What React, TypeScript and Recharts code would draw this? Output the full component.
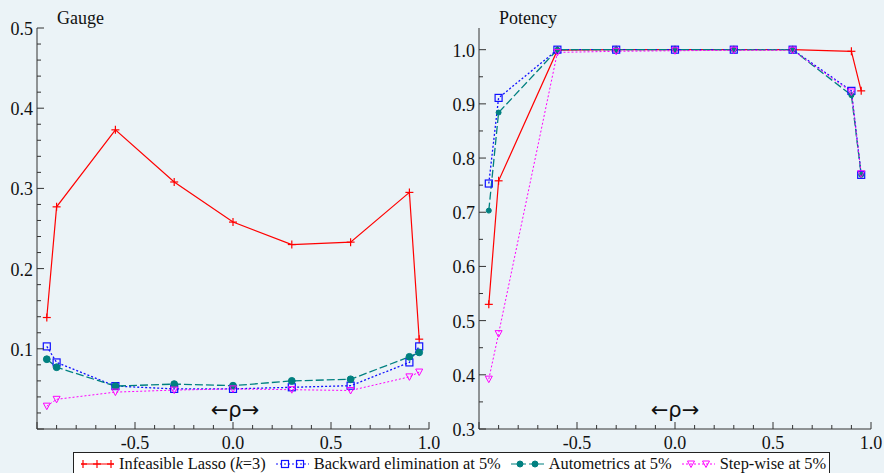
import React from 'react';
import { LineChart, Line, XAxis, YAxis } from 'recharts';

// correlation values on the x axis
const rho = [-0.95, -0.9, -0.6, -0.3, 0, 0.3, 0.6, 0.9, 0.95];

// gauge (left panel)
const gaugeLasso = [0.139, 0.277, 0.373, 0.308, 0.258, 0.23, 0.233, 0.295, 0.112];
const gaugeBackward = [0.103, 0.083, 0.0535, 0.05, 0.05, 0.052, 0.054, 0.083, 0.103];
const gaugeAuto = [0.087, 0.077, 0.0535, 0.056, 0.054, 0.06, 0.062, 0.09, 0.0955];
const gaugeStep = [0.0285, 0.037, 0.046, 0.0485, 0.05, 0.049, 0.048, 0.065, 0.071];

// potency (right panel)
const potencyLasso = [0.53, 0.758, 0.999, 1, 1, 1, 1, 0.997, 0.924];
const potencyBackward = [0.753, 0.911, 1, 1, 1, 1, 1, 0.924, 0.769];
const potencyAuto = [0.703, 0.884, 1, 1, 1, 1, 1, 0.916, 0.769];
const potencyStep = [0.392, 0.476, 0.995, 0.997, 0.998, 0.999, 0.999, 0.922, 0.771];

const xTicks = [-1, -0.9, -0.8, -0.7, -0.6, -0.5, -0.4, -0.3, -0.2, -0.1, 0, 0.1, 0.2, 0.3, 0.4, 0.5, 0.6, 0.7, 0.8, 0.9, 1];
const gaugeTicks = [0, 0.02, 0.04, 0.06, 0.08, 0.1, 0.12, 0.14, 0.16, 0.18, 0.2, 0.22, 0.24, 0.26, 0.28, 0.3, 0.32, 0.34, 0.36, 0.38, 0.4, 0.42, 0.44, 0.46, 0.48, 0.5];
const potencyTicks = [0.3, 0.35, 0.4, 0.45, 0.5, 0.55, 0.6, 0.65, 0.7, 0.75, 0.8, 0.85, 0.9, 0.95, 1];

const BG = '#ebf3f7';
const AXIS = '#333';
const RED = '#ff0000';
const BLUE = '#1010ff';
const TEAL = '#008080';
const MAGENTA = '#ff00ff';
const SERIF = "'Liberation Serif', 'Times New Roman', Times, Tinos, 'DejaVu Serif', 'Noto Serif', serif";

const gaugeRows = rho.map((r, i) => ({
    rho: r,
    lasso: gaugeLasso[i],
    backward: gaugeBackward[i],
    auto: gaugeAuto[i],
    step: gaugeStep[i],
}));

const potencyRows = rho.map((r, i) => ({
    rho: r,
    lasso: potencyLasso[i],
    backward: potencyBackward[i],
    auto: potencyAuto[i],
    step: potencyStep[i],
}));

const isMul = (v: number, step: number) => Math.abs(v / step - Math.round(v / step)) < 1e-6;

// markers
const plus = (cx: number, cy: number, k?: any) => (
    <g key={k}>
        <line x1={cx - 4} x2={cx + 4} y1={cy} y2={cy} stroke={RED} strokeWidth={1.2} />
        <line x1={cx} x2={cx} y1={cy - 4} y2={cy + 4} stroke={RED} strokeWidth={1.2} />
    </g>
);
const square = (cx: number, cy: number, k?: any) => (
    <rect key={k} x={cx - 3.5} y={cy - 3.5} width={7} height={7} fill="none" stroke={BLUE} strokeWidth={1.2} />
);
const circle = (r: number) => (cx: number, cy: number, k?: any) => (
    <circle key={k} cx={cx} cy={cy} r={r} fill={TEAL} stroke={TEAL} />
);
const triangle = (cx: number, cy: number, k?: any) => (
    <path key={k} d={`M${cx - 3.5},${cy - 3} L${cx + 3.5},${cy - 3} L${cx},${cy + 3.5} Z`} fill="none" stroke={MAGENTA} strokeWidth={1} />
);

const dotFn = (m: (cx: number, cy: number, k?: any) => React.ReactElement) => (p: any) =>
    m(p.cx, p.cy, `d-${p.index}`);

const xTick = (props: any) => {
    const { x, y, payload } = props;
    const v = payload.value;
    const major = isMul(v, 0.5);
    return (
        <g key={`xt-${v}`}>
            <line x1={x} x2={x} y1={y} y2={y - (major ? 7 : 4)} stroke={AXIS} />
            {major && v > -0.99 && (
                <text x={x} y={y + 19.5} textAnchor="middle" fontSize={18} style={{ fontFamily: SERIF }} fill="#111">
                    {v.toFixed(1)}
                </text>
            )}
        </g>
    );
};

const yTick = (showZero: boolean) => (props: any) => {
    const { x, y, payload } = props;
    const v = payload.value;
    const major = isMul(v, 0.1);
    const label = major && (showZero || v > 0.001);
    return (
        <g key={`yt-${v}`}>
            <line x1={x} x2={x + (major ? 7 : 4)} y1={y} y2={y} stroke={AXIS} />
            {label && (
                <text x={x - 4} y={y + 7} textAnchor="end" fontSize={18} style={{ fontFamily: SERIF }} fill="#111">
                    {v.toFixed(1)}
                </text>
            )}
        </g>
    );
};

function Chart({ rows, domain, ticks, showZero, dotR, width, margin, yWidth }: any) {
    return (
        <LineChart width={width} height={473} data={rows} margin={margin}>
            <XAxis
                dataKey="rho"
                type="number"
                domain={[-1, 1]}
                ticks={xTicks}
                interval={0}
                tickSize={0}
                tickMargin={0}
                tickLine={false}
                axisLine={{ stroke: AXIS }}
                height={30}
                tick={xTick}
            />
            <XAxis xAxisId="top" orientation="top" type="number" domain={[-1, 1]} height={0} tick={false} tickLine={false} axisLine={{ stroke: AXIS }} />
            <YAxis
                type="number"
                domain={domain}
                ticks={ticks}
                interval={0}
                tickSize={0}
                tickMargin={0}
                tickLine={false}
                axisLine={{ stroke: AXIS }}
                width={yWidth}
                tick={yTick(showZero)}
                allowDataOverflow
            />
            <YAxis yAxisId="right" orientation="right" type="number" domain={domain} width={0} tick={false} tickLine={false} axisLine={{ stroke: AXIS }} />
            <Line type="linear" dataKey="lasso" stroke={RED} strokeWidth={1.2} dot={dotFn(plus)} activeDot={false} isAnimationActive={false} />
            <Line type="linear" dataKey="backward" stroke={BLUE} strokeWidth={1.3} strokeDasharray="2 2" dot={dotFn(square)} activeDot={false} isAnimationActive={false} />
            <Line type="linear" dataKey="auto" stroke={TEAL} strokeWidth={1.3} strokeDasharray="8 3" dot={dotFn(circle(dotR))} activeDot={false} isAnimationActive={false} />
            <Line type="linear" dataKey="step" stroke={MAGENTA} strokeWidth={1} strokeDasharray="2 2" dot={dotFn(triangle)} activeDot={false} isAnimationActive={false} />
        </LineChart>
    );
}

const legendItems = [
    { key: 'lasso', label: <>Infeasible Lasso (<i>k</i>=3)</>, color: RED, dash: undefined, marker: plus, at: [2, 16, 30] },
    { key: 'backward', label: <>Backward elimination at 5%</>, color: BLUE, dash: '2 2', marker: square, at: [9, 24] },
    { key: 'auto', label: <>Autometrics at 5%</>, color: TEAL, dash: '6 3', marker: circle(3), at: [9, 24] },
    { key: 'step', label: <>Step-wise at 5%</>, color: MAGENTA, dash: '2 2', marker: triangle, at: [9, 24] },
];

const textStyle: React.CSSProperties = {
    position: 'absolute',
    fontFamily: SERIF,
    fontSize: 18,
    lineHeight: '18px',
    color: '#111',
    whiteSpace: 'nowrap',
};

const rhoStyle: React.CSSProperties = {
    position: 'absolute',
    width: 80,
    textAlign: 'center',
    fontFamily: "'DejaVu Sans', sans-serif",
    fontSize: 21,
    lineHeight: '24px',
    color: '#111',
};

export default function App() {
    return (
        <div style={{ position: 'absolute', left: 0, top: 0, width: 884, height: 473, background: BG, overflow: 'hidden' }}>
            <div style={{ position: 'absolute', left: 0, top: 0 }}>
                <Chart
                    rows={gaugeRows}
                    domain={[0, 0.5]}
                    ticks={gaugeTicks}
                    showZero={false}
                    dotR={3.4}
                    width={440}
                    yWidth={37}
                    margin={{ top: 28, right: 11, bottom: 14, left: 0 }}
                />
            </div>
            <div style={{ position: 'absolute', left: 440, top: 0 }}>
                <Chart
                    rows={potencyRows}
                    domain={[0.3, 1.04]}
                    ticks={potencyTicks}
                    showZero
                    dotR={2.5}
                    width={444}
                    yWidth={39}
                    margin={{ top: 28, right: 13, bottom: 14, left: 0 }}
                />
            </div>
            <div style={{ ...textStyle, left: 57, top: 9 }}>Gauge</div>
            <div style={{ ...textStyle, left: 499, top: 9 }}>Potency</div>
            <div style={{ ...rhoStyle, left: 195, top: 398 }}>←ρ→</div>
            <div style={{ ...rhoStyle, left: 635, top: 398 }}>←ρ→</div>
            <div
                style={{
                    position: 'absolute',
                    left: 73,
                    top: 452,
                    width: 757,
                    height: 24,
                    boxSizing: 'border-box',
                    border: '1px solid #222',
                    background: '#fff',
                    display: 'flex',
                    alignItems: 'center',
                    paddingLeft: 7,
                    fontFamily: SERIF,
                    fontSize: 16.4,
                    color: '#111',
                    whiteSpace: 'nowrap',
                }}
            >
                {legendItems.map((it) => (
                    <span key={it.key} style={{ display: 'flex', alignItems: 'center', marginRight: 10 }}>
                        <svg width={33} height={14} style={{ marginRight: 5 }}>
                            <line x1={0} x2={33} y1={7} y2={7} stroke={it.color} strokeWidth={1.2} strokeDasharray={it.dash} />
                            {it.at.map((p) => it.marker(p, 7, `m-${p}`))}
                        </svg>
                        <span>{it.label}</span>
                    </span>
                ))}
            </div>
        </div>
    );
}
